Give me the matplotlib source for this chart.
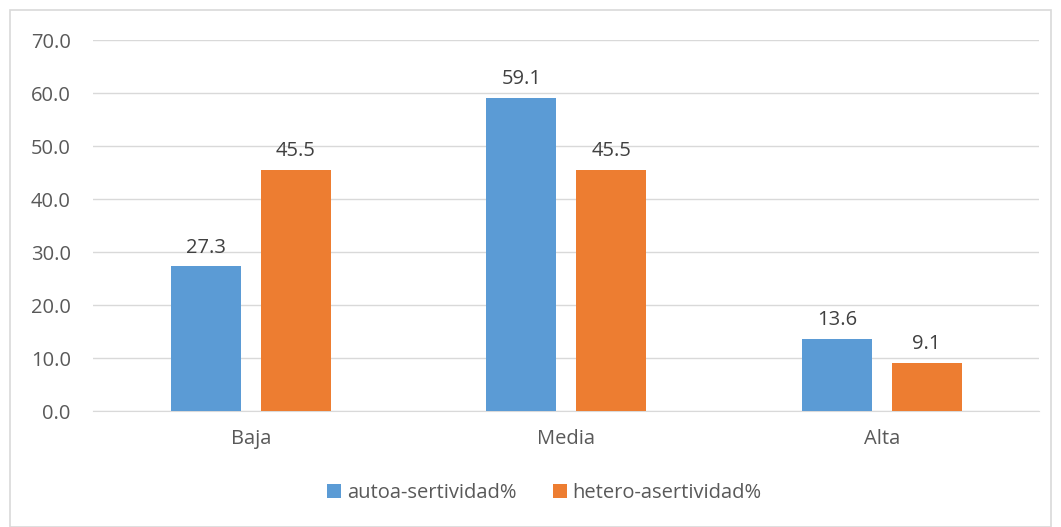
import numpy as np
import matplotlib.pyplot as plt
from matplotlib.patches import Rectangle

plt.rcParams['font.family'] = ['Open Sans', 'DejaVu Sans']

# Datos
categorias = ["Baja", "Media", "Alta"]
autoa = [27.3, 59.1, 13.6]
hetero = [45.5, 45.5, 9.1]
etiquetas_y = ["0.0", "10.0", "20.0", "30.0", "40.0", "50.0", "60.0", "70.0"]

azul = "#5B9BD5"
naranja = "#ED7D31"
gris_texto = "#595959"

fig = plt.figure(figsize=(10.61, 5.27), dpi=100)
ax = fig.add_axes([0.0877, 0.220, 0.892, 0.704])

x = np.arange(len(categorias))
ancho = 0.2215
sep = 0.0633
b1 = ax.bar(x - (ancho + sep) / 2, autoa, ancho, color=azul, label="autoa-sertividad%", zorder=3)
b2 = ax.bar(x + (ancho + sep) / 2, hetero, ancho, color=naranja, label="hetero-asertividad%", zorder=3)

for barras in (b1, b2):
    for r in barras:
        ax.text(r.get_x() + r.get_width() / 2, r.get_height() + 1.6, f"{r.get_height():.1f}",
                ha="center", va="bottom", fontsize=14.5, color="#404040")

ax.set_xlim(-0.5, 2.5)
ax.set_ylim(0, 70)
ax.set_yticks(np.arange(0, 71, 10))
ax.set_yticklabels(etiquetas_y)
ax.set_xticks(x)
ax.set_xticklabels(categorias)
ax.tick_params(axis="both", length=0, labelsize=14.5, colors=gris_texto)
ax.tick_params(axis="y", pad=16)
ax.tick_params(axis="x", pad=13)
ax.grid(axis="y", color="#D9D9D9", linewidth=1, zorder=0)
for s in ["top", "right", "left"]:
    ax.spines[s].set_visible(False)
ax.spines["bottom"].set_color("#D9D9D9")

leg = fig.legend(loc="center", bbox_to_anchor=(0.513, 0.064), ncol=2, frameon=False,
                 fontsize=14.5, handlelength=0.7, handleheight=0.7, handletextpad=0.3,
                 columnspacing=1.8)
for t in leg.get_texts():
    t.set_color(gris_texto)

fig.patches.append(Rectangle((10 / 1061, 0), 1 - 20 / 1061, 1 - 10 / 527, transform=fig.transFigure,
                             fill=False, edgecolor="#D9D9D9", linewidth=1.2))

plt.savefig("out.png", dpi=100)
